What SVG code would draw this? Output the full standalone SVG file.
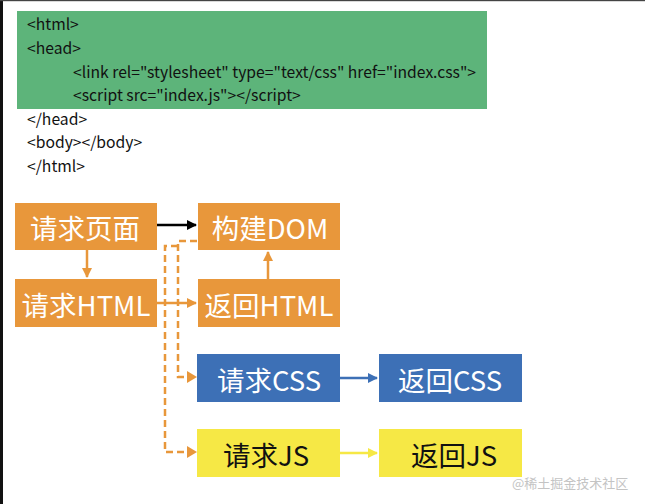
<svg xmlns="http://www.w3.org/2000/svg" width="645" height="504" viewBox="0 0 645 504">
<style>
.code{font-family:"Noto Sans CJK SC","Liberation Sans",sans-serif;font-size:15.7px;fill:#111}
.lbl{font-family:"Noto Sans CJK SC","Liberation Sans",sans-serif;font-size:27.5px;text-anchor:middle;dominant-baseline:central}
.w{fill:#ffffff}
.k{fill:#111111}
.or{fill:#E8973B}
.bl{fill:#3D70B6}
.ye{fill:#F6E845}
.line{fill:none;stroke-width:2.5}
.dash{fill:none;stroke:#E8973B;stroke-width:2.5;stroke-dasharray:7 4}
.wm{font-family:"Noto Sans CJK SC",sans-serif;font-size:13px;fill:#c4c4c4}
</style>
<defs>
<marker id="aK" viewBox="0 0 10 10" refX="9" refY="5" markerWidth="4" markerHeight="4" orient="auto" markerUnits="strokeWidth"><path d="M0,0 L10,5 L0,10 z" fill="#000"/></marker>
<marker id="aO" viewBox="0 0 10 10" refX="9" refY="5" markerWidth="4" markerHeight="4" orient="auto" markerUnits="strokeWidth"><path d="M0,0 L10,5 L0,10 z" fill="#E8973B"/></marker>
<marker id="aB" viewBox="0 0 10 10" refX="9" refY="5" markerWidth="4" markerHeight="4" orient="auto" markerUnits="strokeWidth"><path d="M0,0 L10,5 L0,10 z" fill="#3D70B6"/></marker>
<marker id="aY" viewBox="0 0 10 10" refX="9" refY="5" markerWidth="4" markerHeight="4" orient="auto" markerUnits="strokeWidth"><path d="M0,0 L10,5 L0,10 z" fill="#F6E845"/></marker>
</defs>
<rect x="0" y="0" width="645" height="504" fill="#ffffff"/>
<rect x="0" y="0" width="3" height="504" fill="#111"/>
<rect x="0" y="0" width="645" height="1.2" fill="#444"/>

<g id="code">
<rect x="17" y="11" width="470" height="98" fill="#5DB47A"/>
<text class="code" x="27" y="30">&lt;html&gt;</text>
<text class="code" x="27" y="54">&lt;head&gt;</text>
<text class="code" x="73" y="78">&lt;link rel="stylesheet" type="text/css" href="index.css"&gt;</text>
<text class="code" x="73" y="101">&lt;script src="index.js"&gt;&lt;/script&gt;</text>
<text class="code" x="27" y="125">&lt;/head&gt;</text>
<text class="code" x="27" y="148">&lt;body&gt;&lt;/body&gt;</text>
<text class="code" x="27" y="172">&lt;/html&gt;</text>
</g>

<g id="connectors">
<path class="line" stroke="#000" d="M157,225 H196" marker-end="url(#aK)"/>
<path class="line" stroke="#E8973B" d="M87,250 V277" marker-end="url(#aO)"/>
<path class="line" stroke="#E8973B" d="M157,303 H196" marker-end="url(#aO)"/>
<path class="line" stroke="#E8973B" d="M268,279 V252" marker-end="url(#aO)"/>
<path class="dash" d="M197,241 H178 V377 H189"/>
<path d="M187,371 L197,377 L187,383 z" fill="#E8973B"/>
<path class="dash" d="M178,246 H165 V452 H189"/>
<path d="M187,446 L197,452 L187,458 z" fill="#E8973B"/>
<path class="line" stroke="#3D70B6" d="M340,378 H377" marker-end="url(#aB)"/>
<path class="line" stroke="#F6E845" d="M340,453 H377" marker-end="url(#aY)"/>
</g>

<g id="n-qingqiuyemian"><rect class="or" x="15" y="203" width="142" height="47"/><text class="lbl w" x="85" y="227">请求页面</text></g>
<g id="n-goujiandom"><rect class="or" x="198" y="203" width="142" height="47"/><text class="lbl w" x="270" y="227">构建DOM</text></g>
<g id="n-qingqiuhtml"><rect class="or" x="15" y="279" width="142" height="48"/><text class="lbl w" x="86" y="304">请求HTML</text></g>
<g id="n-fanhuihtml"><rect class="or" x="198" y="279" width="142" height="48"/><text class="lbl w" x="269" y="304">返回HTML</text></g>
<g id="n-qingqiucss"><rect class="bl" x="197" y="354" width="143" height="48"/><text class="lbl w" x="269" y="379">请求CSS</text></g>
<g id="n-fanhuicss"><rect class="bl" x="379" y="354" width="143" height="48"/><text class="lbl w" x="450" y="379">返回CSS</text></g>
<g id="n-qingqiujs"><rect class="ye" x="197" y="429" width="143" height="48"/><text class="lbl k" x="266" y="454">请求JS</text></g>
<g id="n-fanhuijs"><rect class="ye" x="379" y="429" width="143" height="48"/><text class="lbl k" x="454" y="454">返回JS</text></g>

<text class="wm" x="512" y="488">@稀土掘金技术社区</text>
</svg>
